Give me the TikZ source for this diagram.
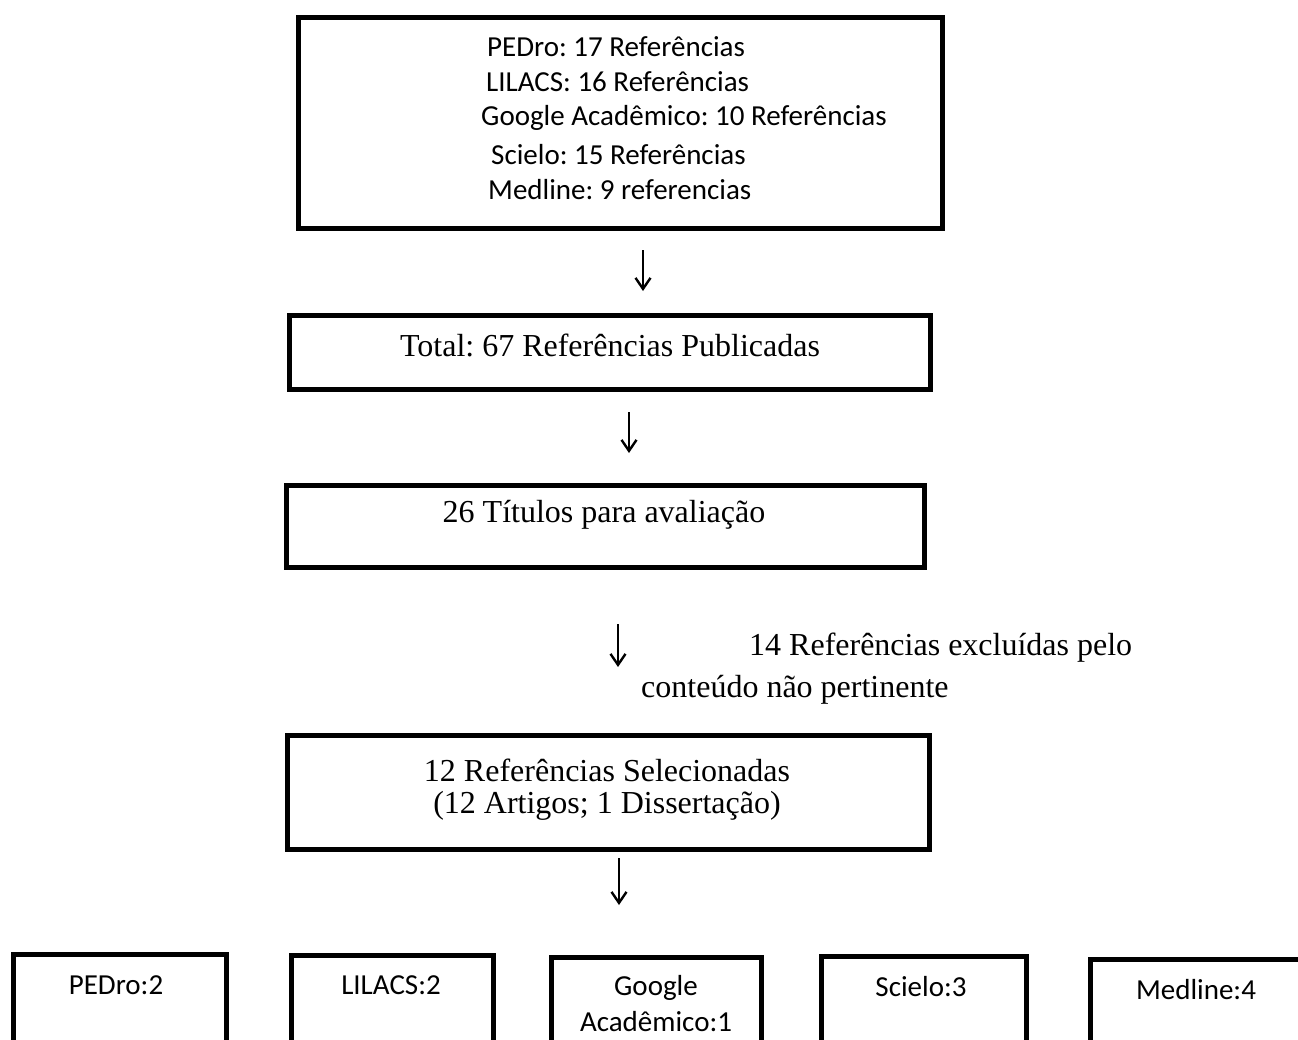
\documentclass[tikz,border=0pt]{standalone}
\usepackage{fontspec}
\setmainfont{Liberation Serif}
\newfontfamily\calfont{Carlito}
\usetikzlibrary{arrows.meta}
\frenchspacing
\begin{document}
\begin{tikzpicture}[x=1pt,y=-1pt,
  box/.style={draw,line width=5pt,inner sep=0pt,outer sep=0pt,anchor=north west},
  sanstxt/.style={font=\calfont\fontsize{29}{35}\selectfont,inner sep=0pt},
  smalltxt/.style={font=\calfont\fontsize{29}{34}\selectfont,inner sep=0pt},
  sertxt/.style={font=\fontsize{32}{37}\selectfont,inner sep=0pt},
  arr/.style={line width=2pt,-{Straight Barb[length=11pt,width=15pt,line width=2.4pt]}}]
\useasboundingbox (0,0) rectangle (1298,1039);
\clip (0,0) rectangle (1298,1039);
% boxes
\node[box,minimum width=644pt,minimum height=211pt] (b1) at (298,17) {};
\node[box,minimum width=641pt,minimum height=74pt] (b2) at (289,315) {};
\node[box,minimum width=638pt,minimum height=82pt] (b3) at (286,485) {};
\node[box,minimum width=642pt,minimum height=114pt] (b4) at (287,735) {};
\node[box,minimum width=213pt,minimum height=130pt] (p1) at (13,954) {};
\node[box,minimum width=202pt,minimum height=130pt] (p2) at (291,955) {};
\node[box,minimum width=210pt,minimum height=130pt] (p3) at (551,957) {};
\node[box,minimum width=205pt,minimum height=130pt] (p4) at (821,956) {};
\node[box,minimum width=230pt,minimum height=130pt] (p5) at (1090,959) {};
% top box text
\node[sanstxt,anchor=west] (t1) at (487,47) {PEDro: 17 Referências};
\node[sanstxt,anchor=west] (t2) at (486,82) {LILACS: 16 Referências};
\node[sanstxt,anchor=west] (t3) at (481,118) {Google Acadêmico: 10 Referências};
\node[sanstxt,anchor=west] (t4) at (491,155) {Scielo: 15 Referências};
\node[sanstxt,anchor=west] (t5) at (488,190) {Medline: 9 referencias};
% middle texts
\node[sertxt] (tot) at (610,345) {Total: 67 Referências Publicadas};
\node[sertxt] (tit) at (604,515) {26 Títulos para avaliação};
\node[sertxt,anchor=west] (ex1) at (749,648) {14 Referências excluídas pelo};
\node[sertxt,anchor=west] (ex2) at (641,690) {conteúdo não pertinente};
\node[sertxt] (sel1) at (607,770) {12 Referências Selecionadas};
\node[sertxt] (sel2) at (607,806) {(12 Artigos; 1 Dissertação)};
% bottom texts
\node[smalltxt] (q1) at (116,985) {PEDro:2};
\node[smalltxt] (q2) at (391,985) {LILACS:2};
\node[smalltxt] (q3a) at (656,988) {Google};
\node[smalltxt] (q3b) at (656,1022) {Acadêmico:1};
\node[smalltxt] (q4) at (921,987) {Scielo:3};
\node[smalltxt] (q5) at (1196,990) {Medline:4};
% arrows
\coordinate (a1s) at (643,250); \coordinate (a1e) at (643,291);
\coordinate (a2s) at (629,412); \coordinate (a2e) at (629,453);
\coordinate (a3s) at (618,624); \coordinate (a3e) at (618,667);
\coordinate (a4s) at (619,858); \coordinate (a4e) at (619,905);
\draw[arr] (a1s) -- (a1e);
\draw[arr] (a2s) -- (a2e);
\draw[arr] (a3s) -- (a3e);
\draw[arr] (a4s) -- (a4e);
\end{tikzpicture}
\end{document}
